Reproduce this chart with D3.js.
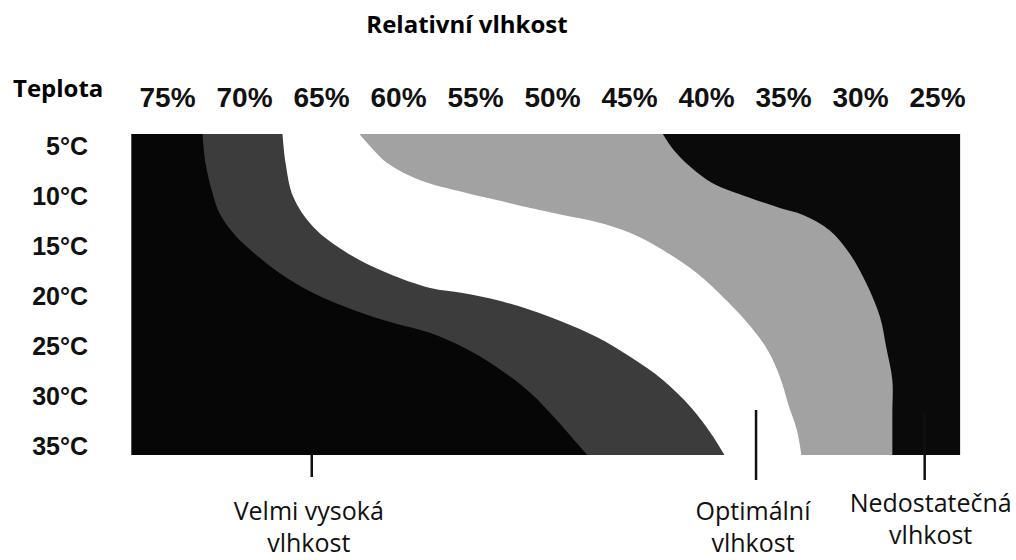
<!DOCTYPE html>
<html>
<head>
<meta charset="utf-8">
<script src="https://cdn.jsdelivr.net/npm/d3@7"></script>
<style>
  body { margin: 0; background: #fff; }
  svg { display: block; }
</style>
</head>
<body>
<svg id="chart" width="1016" height="560"></svg>
<script>
// Column and row labels
const humidityTicks = [75, 70, 65, 60, 55, 50, 45, 40, 35, 30, 25];
const tempTicks = [5, 10, 15, 20, 25, 30, 35];

// Extent of the shaded field (humidity %, temperature °C)
const fieldHumidity = [77.3, 23.5];
const fieldTemp = [3.8, 35.9];

// Boundary black | dark grey
const edgeATemp = [3.8, 6.7, 9.4, 11.7, 13.7, 15.1, 17.7, 19.7, 21.4, 22.7, 23.7, 25.1, 27.1, 29.7, 32.4, 34.7, 35.9];
const edgeAHum  = [72.7, 72.5, 72.1, 71.6, 70.7, 69.8, 67.7, 65.5, 62.9, 60.3, 57.9, 55.8, 53.6, 51.4, 49.7, 48.4, 47.7];

// Boundary dark grey | white
const edgeBTemp = [3.8, 6.7, 10.1, 13.1, 15.7, 17.7, 19.2, 19.7, 20.4, 21.4, 22.6, 24.1, 26.1, 28.4, 31.1, 33.7, 35.9];
const edgeBHum  = [67.5, 67.3, 66.8, 65.5, 63.3, 60.7, 57.9, 55.8, 53.6, 51.4, 49.3, 47.1, 44.9, 42.8, 41.0, 39.7, 38.8];

// Boundary white | light grey
const edgeCTemp = [3.8, 4.7, 6.7, 8.4, 9.6, 10.4, 11.2, 11.9, 12.6, 13.7, 15.4, 17.7, 20.1, 22.7, 25.4, 28.1, 31.1, 33.4, 35.9];
const edgeCHum  = [62.5, 62.0, 60.7, 58.6, 55.8, 53.6, 51.4, 49.3, 47.1, 44.9, 42.8, 40.6, 38.9, 37.3, 36.0, 35.2, 34.6, 34.1, 33.8];

// Boundary light grey | black
const edgeDTemp = [3.8, 5.4, 7.1, 8.7, 10.1, 11.2, 11.9, 13.4, 15.7, 18.7, 22.1, 25.1, 28.4, 31.7, 35.9];
const edgeDHum  = [42.8, 42.1, 41.0, 39.6, 37.3, 35.2, 33.7, 32.0, 30.7, 29.6, 28.7, 28.3, 27.9, 27.9, 27.9];

// Zone callouts below the field
const calloutLines = [["Velmi vysoká", "vlhkost"], ["Optimální", "vlhkost"], ["Nedostatečná", "vlhkost"]];
const calloutHum = [65.6, 36.75, 25.8];
const calloutTempFrom = [35.7, 31.4, 31.7];
const calloutTempTo = [38.1, 38.4, 38.4];

const svg = d3.select("#chart");

const x = d3.scaleLinear().domain([75, 25]).range([167, 937]);
const y = d3.scaleLinear().domain([5, 35]).range([146, 446]);

// base: the dry (right) black zone covers the whole field
svg.append("rect")
    .attr("x", x(fieldHumidity[0]))
    .attr("y", y(fieldTemp[0]))
    .attr("width", x(fieldHumidity[1]) - x(fieldHumidity[0]))
    .attr("height", y(fieldTemp[1]) - y(fieldTemp[0]))
    .attr("fill", "#0a0a0a");

const zones = [
    { fill: "#a2a2a2", t: edgeDTemp, h: edgeDHum },
    { fill: "#ffffff", t: edgeCTemp, h: edgeCHum },
    { fill: "#3c3c3c", t: edgeBTemp, h: edgeBHum },
    { fill: "#060606", t: edgeATemp, h: edgeAHum }
];

const area = d3.area()
    .curve(d3.curveCatmullRom.alpha(0.5))
    .y(d => y(d[0]))
    .x0(x(fieldHumidity[0]))
    .x1(d => x(d[1]));

svg.selectAll(".zone")
    .data(zones)
  .enter().append("path")
    .attr("class", "zone")
    .attr("d", z => area(z.t.map((t, i) => [t, z.h[i]])))
    .attr("fill", z => z.fill);

// humidity labels along the top
const xAxis = svg.append("g")
    .attr("transform", "translate(0,107)")
    .call(d3.axisTop(x).tickValues(humidityTicks).tickFormat(d => d + "%").tickSize(0).tickPadding(0));
xAxis.select(".domain").remove();
xAxis.selectAll("text")
    .attr("font-family", "'Liberation Sans', Arial, sans-serif")
    .attr("font-weight", "bold")
    .attr("font-size", 28)
    .attr("fill", "#111");

// temperature labels on the left
const yAxis = svg.append("g")
    .attr("transform", "translate(88,0)")
    .call(d3.axisLeft(y).tickValues(tempTicks).tickFormat(d => d + "°C").tickSize(0).tickPadding(0));
yAxis.select(".domain").remove();
yAxis.selectAll("text")
    .attr("font-family", "'Liberation Sans', Arial, sans-serif")
    .attr("font-weight", "bold")
    .attr("font-size", 25)
    .attr("fill", "#111");

// titles
svg.append("text")
    .attr("x", 467).attr("y", 33)
    .attr("text-anchor", "middle")
    .attr("font-family", "'Open Sans', sans-serif")
    .attr("font-weight", "bold")
    .attr("font-size", 24)
    .text("Relativní vlhkost");

svg.append("text")
    .attr("x", 13).attr("y", 97)
    .attr("font-family", "'Open Sans', sans-serif")
    .attr("font-weight", "bold")
    .attr("font-size", 24)
    .text("Teplota");

// callouts
const calloutText = [ {dx: -3, y: 520}, {dx: -3, y: 520}, {dx: 6, y: 512} ];
calloutLines.forEach((lines, i) => {
    svg.append("line")
        .attr("x1", x(calloutHum[i])).attr("x2", x(calloutHum[i]))
        .attr("y1", y(calloutTempFrom[i])).attr("y2", y(calloutTempTo[i]))
        .attr("stroke", "#111")
        .attr("stroke-width", 2.5);

    const t = svg.append("text")
        .attr("text-anchor", "middle")
        .attr("font-family", "'Open Sans', sans-serif")
        .attr("font-size", 25)
        .attr("fill", "#111");
    lines.forEach((s, j) => {
        t.append("tspan")
            .attr("x", x(calloutHum[i]) + calloutText[i].dx)
            .attr("y", calloutText[i].y + j * 32)
            .text(s);
    });
});
</script>
</body>
</html>
